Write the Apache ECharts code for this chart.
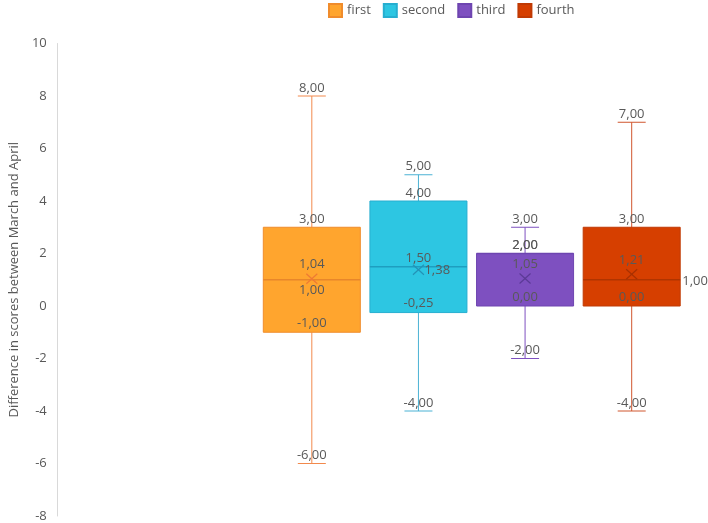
<!DOCTYPE html>
<html>
<head>
<meta charset="utf-8">
<script src="https://cdn.jsdelivr.net/npm/echarts@6/dist/echarts.min.js"></script>
<style>html,body{margin:0;padding:0;background:#fff}#c{width:708px;height:523px}</style>
</head>
<body>
<div id="c"></div>
<script>
// ---- data ----
var seriesNames = ['first', 'second', 'third', 'fourth'];
var minVals    = [-6, -4, -2, -4];
var q1Vals     = [-1, -0.25, 0, 0];
var medianVals = [1, 1.5, 2, 1];
var q3Vals     = [3, 4, 2, 3];
var maxVals    = [8, 5, 3, 7];
var meanVals   = [1.04, 1.38, 1.05, 1.21];
var yTicks     = [-8, -6, -4, -2, 0, 2, 4, 6, 8, 10];

// ---- styles ----
var fills    = ['#FFA52E', '#2DC6E2', '#7E50C0', '#D63F00'];
var strokes  = ['#F08C2C', '#27AED0', '#6E45B0', '#C03A04'];
var whiskerC = ['#F2894C', '#4BB2D4', '#7E50C0', '#D0562E'];
var medianC  = ['#E8862A', '#1E9EC0', '#6E45B0', '#B03400'];
var meanC    = ['#EE7A34', '#2492B6', '#5B3A96', '#A83100'];
var meanLabelPos   = ['top', 'right', 'top', 'top'];
var medianLabelPos = ['bottom', 'top', 'top', 'boxright'];

function fmt(v){ return v.toFixed(2).replace('.', ','); }
var labelFont = { fill: '#595959', fontSize: 13, fontFamily: 'Open Sans' };

function txt(str, x, y, align, vAlign){
  return { type: 'text', z2: 20, style: Object.assign({ text: str, x: x, y: y, align: align || 'center', verticalAlign: vAlign || 'middle' }, labelFont) };
}

function renderItem(params, api){
  var i = params.seriesIndex;
  var cat = api.value(0);
  var vMin = api.value(1), vQ1 = api.value(2), vMed = api.value(3), vQ3 = api.value(4), vMax = api.value(5), vMean = api.value(6);
  var band = api.size([1, 0])[0];
  var boxW = band * 0.91;
  var capW = 28;
  var cx = api.coord([cat, vMed])[0];
  var yMin = api.coord([cat, vMin])[1];
  var yQ1 = api.coord([cat, vQ1])[1];
  var yMed = api.coord([cat, vMed])[1];
  var yQ3 = api.coord([cat, vQ3])[1];
  var yMax = api.coord([cat, vMax])[1];
  var yMean = api.coord([cat, vMean])[1];
  var l = cx - boxW / 2, r = cx + boxW / 2;
  var wl = { stroke: whiskerC[i], lineWidth: 1 };
  var ch = [];
  ch.push({ type: 'line', shape: { x1: cx, y1: yMax, x2: cx, y2: yQ3 }, style: wl });
  ch.push({ type: 'line', shape: { x1: cx, y1: yQ1, x2: cx, y2: yMin }, style: wl });
  ch.push({ type: 'line', shape: { x1: cx - capW / 2, y1: yMax, x2: cx + capW / 2, y2: yMax }, style: wl });
  ch.push({ type: 'line', shape: { x1: cx - capW / 2, y1: yMin, x2: cx + capW / 2, y2: yMin }, style: wl });
  ch.push({ type: 'rect', shape: { x: l, y: yQ3, width: boxW, height: yQ1 - yQ3 }, style: { fill: fills[i], stroke: strokes[i], lineWidth: 1 } });
  ch.push({ type: 'line', z2: 5, shape: { x1: l, y1: yMed, x2: r, y2: yMed }, style: { stroke: medianC[i], lineWidth: 1.5 } });
  var mh = 5, mw = 5.5;
  ch.push({ type: 'line', z2: 6, shape: { x1: cx - mw, y1: yMean - mh, x2: cx + mw, y2: yMean + mh }, style: { stroke: meanC[i], lineWidth: 1.2 } });
  ch.push({ type: 'line', z2: 6, shape: { x1: cx - mw, y1: yMean + mh, x2: cx + mw, y2: yMean - mh }, style: { stroke: meanC[i], lineWidth: 1.2 } });
  // labels
  ch.push(txt(fmt(vMax), cx, yMax - 8));
  ch.push(txt(fmt(vQ3), cx, yQ3 - 8));
  ch.push(txt(fmt(vQ1), cx, yQ1 - 9));
  ch.push(txt(fmt(vMin), cx, yMin - 8));
  if (meanLabelPos[i] === 'right') ch.push(txt(fmt(vMean), cx + 6, yMean + 1, 'left'));
  else ch.push(txt(fmt(vMean), cx, yMean - 14));
  var mp = medianLabelPos[i];
  if (mp === 'bottom') ch.push(txt(fmt(vMed), cx, yMed + 11));
  else if (mp === 'top') ch.push(txt(fmt(vMed), cx, yMed - 8));
  else if (mp === 'boxright') ch.push(txt(fmt(vMed), r + 2, yMed + 2, 'left'));
  return { type: 'group', children: ch };
}

var series = seriesNames.map(function(name, i){
  return {
    name: name,
    type: 'custom',
    renderItem: renderItem,
    xAxisIndex: 1, yAxisIndex: 1,
    itemStyle: { color: fills[i], borderColor: strokes[i], borderWidth: 1 },
    encode: { x: 0, y: [1, 2, 3, 4, 5] },
    data: [[i, minVals[i], q1Vals[i], medianVals[i], q3Vals[i], maxVals[i], meanVals[i]]]
  };
});

var yMin = yTicks[0], yMax = yTicks[yTicks.length - 1];
var chart = echarts.init(document.getElementById('c'), null, { renderer: 'canvas' });
chart.setOption({
  animation: false,
  backgroundColor: '#fff',
  textStyle: { fontFamily: 'Open Sans' },
  legend: {
    data: seriesNames,
    left: 323, top: -2,
    icon: 'rect',
    itemWidth: 13, itemHeight: 13, itemGap: 12,
    textStyle: { color: '#595959', fontSize: 13, fontFamily: 'Open Sans' }
  },
  grid: [
    { left: 53, right: 23, top: 43.5, bottom: 7, containLabel: false },
    { left: 258.5, right: 23, top: 43.5, bottom: 7, containLabel: false }
  ],
  xAxis: [
    { type: 'value', gridIndex: 0, show: false, min: 0, max: 1 },
    { type: 'category', gridIndex: 1, data: seriesNames, show: false }
  ],
  yAxis: [
    {
      type: 'value', gridIndex: 0,
      min: yMin, max: yMax, interval: 2,
      name: 'Difference in scores between March and April',
      nameLocation: 'middle', nameGap: 34,
      nameTextStyle: { color: '#595959', fontSize: 13, fontFamily: 'Open Sans' },
      axisLine: { show: true, lineStyle: { color: '#D9D9D9' } },
      axisTick: { show: false },
      splitLine: { show: false },
      axisLabel: { color: '#595959', fontSize: 13, margin: 10, fontFamily: 'Open Sans' }
    },
    {
      type: 'value', gridIndex: 1, show: false,
      min: yMin, max: yMax, interval: 2,
      splitLine: { show: false }
    }
  ],
  series: series
});
</script>
</body>
</html>
